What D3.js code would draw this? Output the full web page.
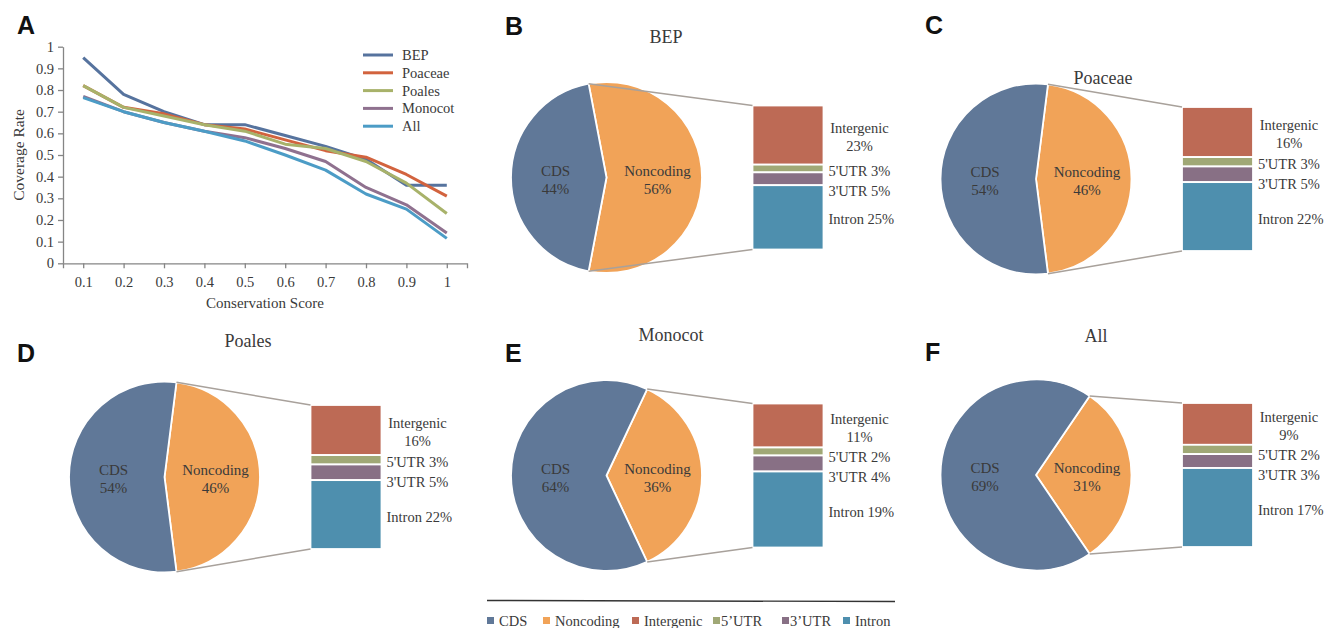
<!DOCTYPE html>
<html>
<head>
<meta charset="utf-8">
<script src="https://cdn.jsdelivr.net/npm/d3@7"></script>
<style>
  html, body { margin: 0; padding: 0; background: #fff; }
  svg { display: block; }
  text { font-family: "Liberation Serif", "Times New Roman", serif; fill: #3a3a3a; }
  .letter { font-family: "Liberation Sans", Arial, sans-serif; font-weight: bold; fill: #111; }
</style>
</head>
<body>
<svg id="chart" width="1337" height="628"></svg>
<script>
// ---------------- DATA ----------------
// Panel A: coverage rate vs conservation score
const scores = ["0.1", "0.2", "0.3", "0.4", "0.5", "0.6", "0.7", "0.8", "0.9", "1"];
const seriesNames = ["BEP", "Poaceae", "Poales", "Monocot", "All"];
const bepRate     = [0.95, 0.78, 0.70, 0.64, 0.64, 0.59, 0.54, 0.48, 0.36, 0.36];
const poaceaeRate = [0.82, 0.72, 0.69, 0.64, 0.62, 0.57, 0.52, 0.49, 0.41, 0.31];
const polesRate   = [0.82, 0.72, 0.68, 0.64, 0.61, 0.55, 0.53, 0.47, 0.37, 0.23];
const monocotRate = [0.77, 0.70, 0.65, 0.61, 0.58, 0.53, 0.47, 0.35, 0.27, 0.14];
const allRate     = [0.765, 0.70, 0.65, 0.61, 0.565, 0.50, 0.43, 0.32, 0.25, 0.115];
const yTickValues = [0, 0.1, 0.2, 0.3, 0.4, 0.5, 0.6, 0.7, 0.8, 0.9, 1];
const yTickLabels = ["0", "0.1", "0.2", "0.3", "0.4", "0.5", "0.6", "0.7", "0.8", "0.9", "1"];

// Panels B-F: composition
const panelTitles   = ["BEP", "Poaceae", "Poales", "Monocot", "All"];
const cdsPct        = [44, 54, 54, 64, 69];
const noncodingPct  = [56, 46, 46, 36, 31];
const intergenicPct = [23, 16, 16, 11, 9];
const utr5Pct       = [3, 3, 3, 2, 2];
const utr3Pct       = [5, 5, 5, 4, 3];
const intronPct     = [25, 22, 22, 19, 17];
const legendLabels  = ["CDS", "Noncoding", "Intergenic", "5\u2019UTR", "3\u2019UTR", "Intron"];

// ---------------- STYLE / LAYOUT ----------------
const lineColors = ["#56739e", "#d2633e", "#a8b26a", "#8f718f", "#4c9cc6"];
const catColors = {CDS: "#607898", Noncoding: "#f1a358", Intergenic: "#bd6a55",
                   UTR5: "#a0a876", UTR3: "#887085", Intron: "#4e8fae"};
const connectorColor = "#a8a19b";

const svg = d3.select("#chart");

// ---------------- PANEL A ----------------
const A = {left: 63, right: 467, top: 46.7, bottom: 263.3};
const x = d3.scalePoint().domain(scores).range([A.left, A.right]).padding(0.5);
const y = d3.scaleLinear().domain([0, 1]).range([A.bottom, A.top]);

const gA = svg.append("g");
const yAxis = d3.axisLeft(y).tickValues(yTickValues)
  .tickFormat((d, i) => yTickLabels[i]).tickSize(5).tickSizeOuter(0);
const xAxis = d3.axisBottom(x).tickSize(5).tickSizeOuter(5);

const gy = gA.append("g").attr("transform", `translate(${A.left},0)`).call(yAxis);
const gx = gA.append("g").attr("transform", `translate(0,${A.bottom})`).call(xAxis);
[gx, gy].forEach(g => {
  g.selectAll("path, line").attr("stroke", "#858585").attr("stroke-width", 1.3);
  g.selectAll("text").style("font-family", "'Liberation Serif', serif")
    .style("font-size", "14.5px").attr("fill", "#3a3a3a");
});
gy.selectAll("text").attr("x", -9);
gx.selectAll("text").attr("y", 13);

const seriesData = [bepRate, poaceaeRate, polesRate, monocotRate, allRate];
const line = d3.line().x((d, i) => x(scores[i])).y(d => y(d));
seriesData.forEach((vals, k) => {
  gA.append("path").datum(vals)
    .attr("fill", "none").attr("stroke", lineColors[k]).attr("stroke-width", 3)
    .attr("stroke-linejoin", "round").attr("d", line);
});

// axis titles
gA.append("text").attr("x", (A.left + A.right) / 2).attr("y", 308)
  .attr("text-anchor", "middle").style("font-size", "15px").text("Conservation Score");
gA.append("text").attr("transform", `translate(24,${(A.top + A.bottom) / 2}) rotate(-90)`)
  .attr("text-anchor", "middle").style("font-size", "15.5px").text("Coverage Rate");

// legend A
seriesNames.forEach((name, k) => {
  const ly = 55 + k * 17.8;
  gA.append("line").attr("x1", 363).attr("x2", 393).attr("y1", ly).attr("y2", ly)
    .attr("stroke", lineColors[k]).attr("stroke-width", 3);
  gA.append("text").attr("x", 402).attr("y", ly + 5).style("font-size", "14.5px").text(name);
});

svg.append("text").attr("class", "letter").attr("x", 17).attr("y", 34)
  .style("font-size", "25px").text("A");

// ---------------- PANELS B-F ----------------
const panelLayout = [
  {letter: "B", lx: 505, ly: 35, cx: 606.5, cy: 177.5, tx: 666, ty: 43},
  {letter: "C", lx: 925, ly: 34, cx: 1036, cy: 179, tx: 1103, ty: 84},
  {letter: "D", lx: 17, ly: 362, cx: 164.5, cy: 477, tx: 248, ty: 347},
  {letter: "E", lx: 505, ly: 362, cx: 606.5, cy: 475.5, tx: 671, ty: 341},
  {letter: "F", lx: 925, ly: 361, cx: 1036, cy: 475, tx: 1096, ty: 342}
];
const R = 95.5;
const barOffset = 146, barW = 71, barHalf = 72;

panelLayout.forEach((L, p) => {
  const g = svg.append("g");
  g.append("text").attr("class", "letter").attr("x", L.lx).attr("y", L.ly)
    .style("font-size", "25px").text(L.letter);
  g.append("text").attr("x", L.tx).attr("y", L.ty).attr("text-anchor", "middle")
    .style("font-size", "18px").text(panelTitles[p]);

  // pie
  const slices = [
    {name: "Noncoding", value: noncodingPct[p], color: catColors.Noncoding},
    {name: "CDS", value: cdsPct[p], color: catColors.CDS}
  ];
  const total = noncodingPct[p] + cdsPct[p];
  const a = noncodingPct[p] / total * 2 * Math.PI;
  const start = Math.PI / 2 - a / 2;
  const pie = d3.pie().sort(null).value(d => d.value).startAngle(start).endAngle(start + 2 * Math.PI);
  const arcs = pie(slices);
  const arc = d3.arc().innerRadius(0).outerRadius(R);
  const labelArc = d3.arc().innerRadius(51).outerRadius(51);
  const pg = g.append("g").attr("transform", `translate(${L.cx},${L.cy})`);
  pg.selectAll("path").data(arcs).join("path")
    .attr("d", arc).attr("fill", d => d.data.color)
    .attr("stroke", "#fff").attr("stroke-width", 1.8).attr("stroke-linejoin", "round");
  arcs.forEach(d => {
    const [px, py] = labelArc.centroid(d);
    const t = pg.append("text").attr("text-anchor", "middle").style("font-size", "15px");
    t.append("tspan").attr("x", px).attr("y", py - 2).text(d.data.name);
    t.append("tspan").attr("x", px).attr("y", py + 16).text(d.data.value + "%");
  });

  // bar of pie
  const segs = [
    {name: "Intergenic", value: intergenicPct[p], color: catColors.Intergenic},
    {name: "5'UTR", value: utr5Pct[p], color: catColors.UTR5},
    {name: "3'UTR", value: utr3Pct[p], color: catColors.UTR3},
    {name: "Intron", value: intronPct[p], color: catColors.Intron}
  ];
  const segTotal = d3.sum(segs, d => d.value);
  const bx = L.cx + barOffset;
  const by = d3.scaleLinear().domain([0, segTotal]).range([L.cy - barHalf, L.cy + barHalf]);
  let acc = 0;
  segs.forEach(s => { s.y0 = acc; acc += s.value; s.y1 = acc; });
  g.selectAll("rect.seg").data(segs).join("rect")
    .attr("x", bx).attr("width", barW)
    .attr("y", d => by(d.y0)).attr("height", d => by(d.y1) - by(d.y0))
    .attr("fill", d => d.color).attr("stroke", "#fff").attr("stroke-width", 1.8);

  // connectors
  const pt = ang => [L.cx + R * Math.sin(ang), L.cy - R * Math.cos(ang)];
  const topPt = pt(start), botPt = pt(start + a);
  g.append("line").attr("x1", topPt[0]).attr("y1", topPt[1]).attr("x2", bx).attr("y2", by(0))
    .attr("stroke", connectorColor).attr("stroke-width", 1.5);
  g.append("line").attr("x1", botPt[0]).attr("y1", botPt[1]).attr("x2", bx).attr("y2", by(segTotal))
    .attr("stroke", connectorColor).attr("stroke-width", 1.5);

  // bar labels with simple overlap avoidance
  const lx = bx + barW;
  let prevBottom = -Infinity;
  segs.forEach((s, i) => {
    const c = (by(s.y0) + by(s.y1)) / 2 + 2;
    if (i === 0) {
      const t = g.append("text").attr("text-anchor", "middle").style("font-size", "14.5px");
      t.append("tspan").attr("x", lx + 36).attr("y", c - 4).text(s.name);
      t.append("tspan").attr("x", lx + 36).attr("y", c + 14).text(s.value + "%");
      prevBottom = c + 9;
    } else {
      const yc = Math.max(c, prevBottom + 20);
      g.append("text").attr("x", lx + 5).attr("y", yc + 5).style("font-size", "14.5px")
        .text(s.name + " " + s.value + "%");
      prevBottom = yc;
    }
  });
});

// ---------------- BOTTOM LEGEND ----------------
svg.append("line").attr("x1", 487).attr("x2", 895).attr("y1", 600.5).attr("y2", 601.5)
  .attr("stroke", "#333").attr("stroke-width", 1.4);
const legColors = [catColors.CDS, catColors.Noncoding, catColors.Intergenic, catColors.UTR5, catColors.UTR3, catColors.Intron];
const legSquareX = [487, 543, 632, 713, 782, 843];
legendLabels.forEach((lab, i) => {
  svg.append("rect").attr("x", legSquareX[i]).attr("y", 617).attr("width", 7).attr("height", 7)
    .attr("fill", legColors[i]);
  svg.append("text").attr("x", legSquareX[i] + (i === 3 || i === 4 ? 8 : 12)).attr("y", 625.5)
    .style("font-size", "14.5px").text(lab);
});
</script>
</body>
</html>
